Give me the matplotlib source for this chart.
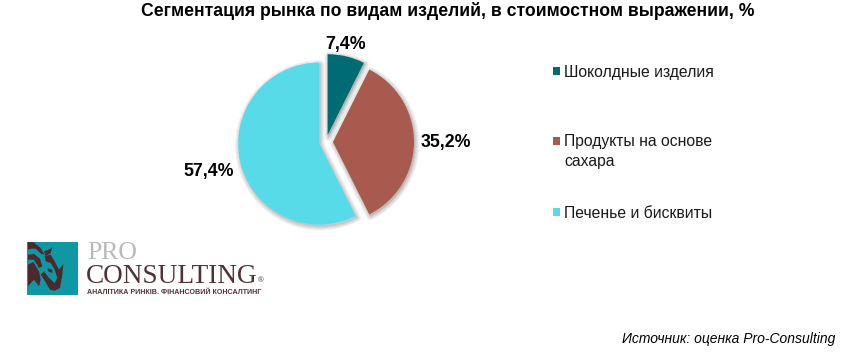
#!/usr/bin/env python3
"""Market segmentation pie chart with source note and logo."""

import matplotlib
matplotlib.use('Agg')  # Non-interactive backend
import matplotlib.pyplot as plt
import matplotlib.patheffects as pe
from matplotlib.patches import Rectangle, Polygon

plt.rcParams['font.family'] = ['Liberation Sans', 'DejaVu Sans']

title = 'Сегментация рынка по видам изделий, в стоимостном выражении, %'
categories = ['Шоколдные изделия', 'Продукты на основе\nсахара', 'Печенье и бисквиты']
values = [7.4, 35.2, 57.4]
value_labels = ['7,4%', '35,2%', '57,4%']
colors = ['#006B73', '#A95A4F', '#57DBE9']
source = 'Источник: оценка Pro-Consulting'

W, H = 850, 359
fig = plt.figure(figsize=(W / 100, H / 100), dpi=100, facecolor='white')

# overlay in pixel coordinates for text, legend and logo
over = fig.add_axes([0, 0, 1, 1], zorder=3)
over.set_xlim(0, W)
over.set_ylim(H, 0)
over.axis('off')
over.patch.set_alpha(0)

# pie, one data unit = 81 px
radius = 81
cx, cy = 326, 142
half = 110
ax = fig.add_axes([(cx - half) / W, 1 - (cy + half) / H, 2 * half / W, 2 * half / H])
wedges, _ = ax.pie(values, colors=colors, startangle=90, counterclock=False,
                   explode=[0.086] * 3, radius=1, frame=True)
ax.set_xlim(-half / radius, half / radius)
ax.set_ylim(-half / radius, half / radius)
ax.axis('off')

# soft drop shadow, faint strokes shifted down a little
shadow = [pe.Stroke(linewidth=lw, foreground='black', alpha=0.05, joinstyle='round',
                    offset=(0.8, -1.2))
          for lw in (6, 4.5, 3, 1.5)]
for w in wedges:
    w.set_path_effects(shadow + [pe.Normal()])

over.text(447.5, 10.5, title, fontsize=12.7, fontweight='bold', ha='center', va='center')

# value labels
label_pos = [(345.5, 44.5), (446, 143), (209, 171.5)]
for txt, (x, y) in zip(value_labels, label_pos):
    over.text(x, y, txt, fontsize=12.8, fontweight='bold', ha='center', va='center')

# legend
legend_y = [70, 140, 211]
for name, col, y in zip(categories, colors, legend_y):
    over.add_patch(Rectangle((553, y - 3), 7, 8, color=col, lw=0))
    if '\n' in name:
        over.text(564, y - 6, name, fontsize=11.3, ha='left', va='top',
                  linespacing=1.38, color='#1a1a1a')
    else:
        over.text(564, y + 2, name, fontsize=11.3, ha='left', va='center', color='#1a1a1a')

over.text(835, 339, source, fontsize=10, style='italic', ha='right', va='center')

# logo, shapes traced at 3x from the corner (24, 238)
teal_logo = '#0F97A3'
brown = '#4A2A2C'
over.add_patch(Rectangle((27.5, 241.5), 51, 53, color=teal_logo, lw=0))
rhino_parts = [
    [(12, 12), (28, 12), (50, 30), (62, 50), (52, 48), (35, 32), (22, 32), (12, 35)],
    [(60, 40), (72, 36), (85, 28), (80, 45), (65, 55)],
    [(12, 50), (30, 48), (48, 62), (55, 85), (45, 90), (30, 65), (12, 65)],
    [(62, 55), (80, 50), (92, 70), (105, 95), (118, 78), (115, 110), (108, 150), (92, 158),
     (78, 155), (60, 125), (50, 110), (60, 100), (75, 120), (92, 135), (100, 120), (92, 95),
     (80, 75), (65, 70)],
    [(12, 80), (28, 72), (45, 100), (50, 125), (45, 145), (30, 125), (12, 145)],
    [(70, 90), (85, 95), (85, 105), (72, 100)],
]
for part in rhino_parts:
    over.add_patch(Polygon([(24 + x / 3, 238 + y / 3) for x, y in part], closed=True,
                           fc=brown, ec='none'))

over.text(87, 259, 'PRO', fontsize=18.5, family='Liberation Serif', color='#B9B9BC',
          ha='left', va='baseline')
over.text(86, 283, 'CONSULTING', fontsize=19.6, family='Liberation Serif', color='#4F3236',
          ha='left', va='baseline')
over.text(261, 281, '®', fontsize=5.5, color='#4F3236', ha='center', va='center')
over.text(87, 293, 'АНАЛІТИКА РИНКІВ. ФІНАНСОВИЙ КОНСАЛТИНГ', fontsize=5.1, fontweight='bold',
          color='#4F3236', ha='left', va='center')

plt.savefig('out.png', dpi=100, facecolor='white')
plt.close()
